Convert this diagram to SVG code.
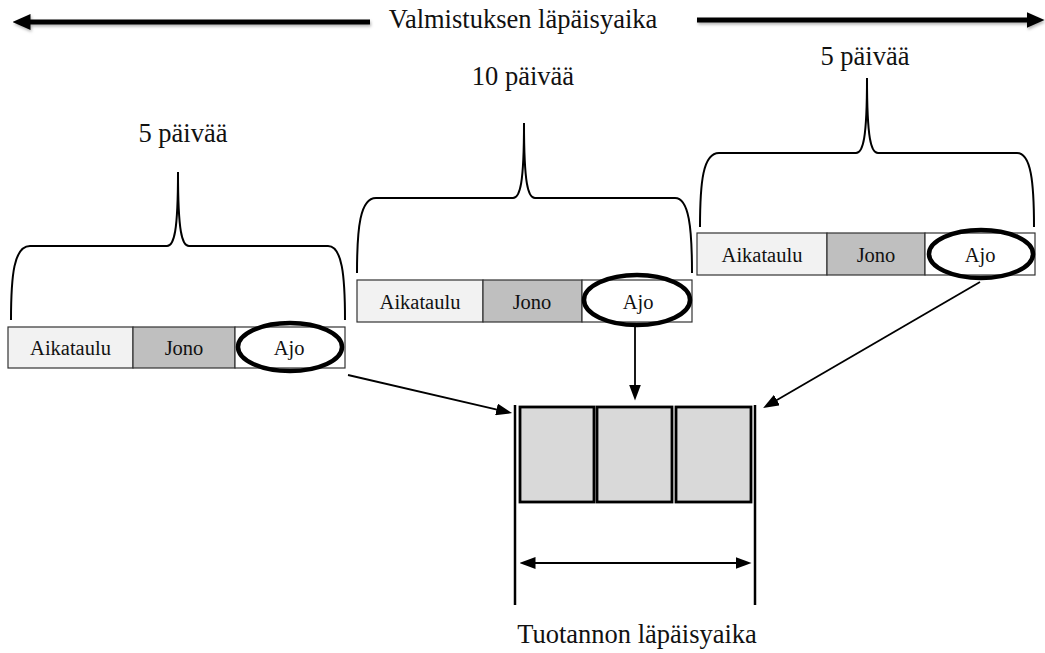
<svg xmlns="http://www.w3.org/2000/svg" width="1045" height="653" viewBox="0 0 1045 653">
  <style>
    text { font-family: "Liberation Serif", "Times New Roman", serif; fill: #111; }
    .big { font-size: 26.5px; text-anchor: middle; }
    .cell-text { font-size: 20.5px; text-anchor: middle; }
    .brace { fill: none; stroke: #000; stroke-width: 2; }
    .cell { stroke: #333; stroke-width: 1.2; }
    .aikataulu { fill: #f2f2f2; }
    .jono { fill: #bfbfbf; }
    .ajo { fill: #ffffff; }
    .ring { fill: none; stroke: #000; stroke-width: 4.5; }
    .conn { stroke: #000; stroke-width: 1.8; fill: none; }
    .span { stroke: #000; stroke-width: 5; fill: none; }
    .slot { fill: #d9d9d9; stroke: #000; stroke-width: 2.8; }
    .limit { stroke: #000; stroke-width: 2.5; }
  </style>
  <defs>
    <marker id="head-lg" markerUnits="userSpaceOnUse" markerWidth="18" markerHeight="16" viewBox="0 0 18 16" refX="0.5" refY="8" orient="auto-start-reverse">
      <path d="M0,0 L18,8 L0,16 z" fill="#000"/>
    </marker>
    <marker id="head-sm" markerUnits="userSpaceOnUse" markerWidth="16" markerHeight="12" viewBox="0 0 16 12" refX="0.5" refY="6" orient="auto-start-reverse">
      <path d="M0,0 L16,6 L0,12 z" fill="#000"/>
    </marker>
    <filter id="soft-shadow" filterUnits="userSpaceOnUse" x="0" y="0" width="1045" height="60">
      <feDropShadow dx="1" dy="2" stdDeviation="1.5" flood-color="#000" flood-opacity="0.3"/>
    </filter>
  </defs>

  <!-- overall lead time span -->
  <g id="lead-time">
    <g filter="url(#soft-shadow)">
      <line class="span" x1="370" y1="22" x2="30" y2="22" marker-end="url(#head-lg)"/>
      <line class="span" x1="697" y1="20" x2="1027" y2="20" marker-end="url(#head-lg)"/>
    </g>
    <text class="big" x="523" y="28">Valmistuksen läpäisyaika</text>
  </g>

  <!-- left order: 5 days -->
  <g id="order-left">
    <text class="big" x="183" y="142">5 päivää</text>
    <path class="brace" d="M11,320 C11,275 14,246 30,246 L167,246 C174,246 178,232 178,172 C178,232 182,246 189,246 L328,246 C342,246 345,275 345,320"/>
    <rect class="cell aikataulu" x="8" y="327" width="125" height="41"/>
    <rect class="cell jono" x="133" y="327" width="102" height="41"/>
    <rect class="cell ajo" x="235" y="327" width="110" height="41"/>
    <text class="cell-text" x="70.5" y="355">Aikataulu</text>
    <text class="cell-text" x="184" y="355">Jono</text>
    <text class="cell-text" x="289" y="355">Ajo</text>
    <ellipse class="ring" cx="290" cy="347" rx="52" ry="24"/>
  </g>

  <!-- middle order: 10 days -->
  <g id="order-middle">
    <text class="big" x="523" y="85">10 päivää</text>
    <path class="brace" d="M357,273 C357,228 360,198 376,198 L513,198 C520,198 524,184 524,123 C524,184 528,198 535,198 L675,198 C689,198 692,228 692,273"/>
    <rect class="cell aikataulu" x="357" y="280" width="126" height="42"/>
    <rect class="cell jono" x="483" y="280" width="99" height="42"/>
    <rect class="cell ajo" x="582" y="280" width="110" height="42"/>
    <text class="cell-text" x="420" y="309">Aikataulu</text>
    <text class="cell-text" x="532" y="309">Jono</text>
    <text class="cell-text" x="638" y="309">Ajo</text>
    <ellipse class="ring" cx="637" cy="300" rx="53" ry="25"/>
  </g>

  <!-- right order: 5 days -->
  <g id="order-right">
    <text class="big" x="865" y="65">5 päivää</text>
    <path class="brace" d="M700,227 C700,182 703,153 719,153 L856,153 C863,153 867,139 867,78 C867,139 871,153 878,153 L1017,153 C1031,153 1034,182 1034,227"/>
    <rect class="cell aikataulu" x="697" y="233" width="130" height="42"/>
    <rect class="cell jono" x="827" y="233" width="98" height="42"/>
    <rect class="cell ajo" x="925" y="233" width="110" height="42"/>
    <text class="cell-text" x="762" y="262">Aikataulu</text>
    <text class="cell-text" x="876" y="262">Jono</text>
    <text class="cell-text" x="980" y="262">Ajo</text>
    <ellipse class="ring" cx="981" cy="254" rx="52" ry="24"/>
  </g>

  <!-- production lead time -->
  <g id="production">
    <line class="limit" x1="515" y1="405" x2="515" y2="605"/>
    <line class="limit" x1="755" y1="405" x2="755" y2="605"/>
    <rect class="slot" x="520" y="407" width="74" height="95"/>
    <rect class="slot" x="597" y="407" width="75" height="95"/>
    <rect class="slot" x="676" y="407" width="75" height="95"/>
    <line class="conn" x1="535" y1="563" x2="736" y2="563" marker-start="url(#head-sm)" marker-end="url(#head-sm)"/>
    <text class="big" x="637" y="643">Tuotannon läpäisyaika</text>
  </g>

  <!-- run connectors into production -->
  <g id="connectors">
    <line class="conn" x1="348" y1="375" x2="497" y2="409.6" marker-end="url(#head-sm)"/>
    <line class="conn" x1="635" y1="327" x2="635" y2="385" marker-end="url(#head-sm)"/>
    <line class="conn" x1="980" y1="282" x2="776.5" y2="400.3" marker-end="url(#head-sm)"/>
  </g>
</svg>
